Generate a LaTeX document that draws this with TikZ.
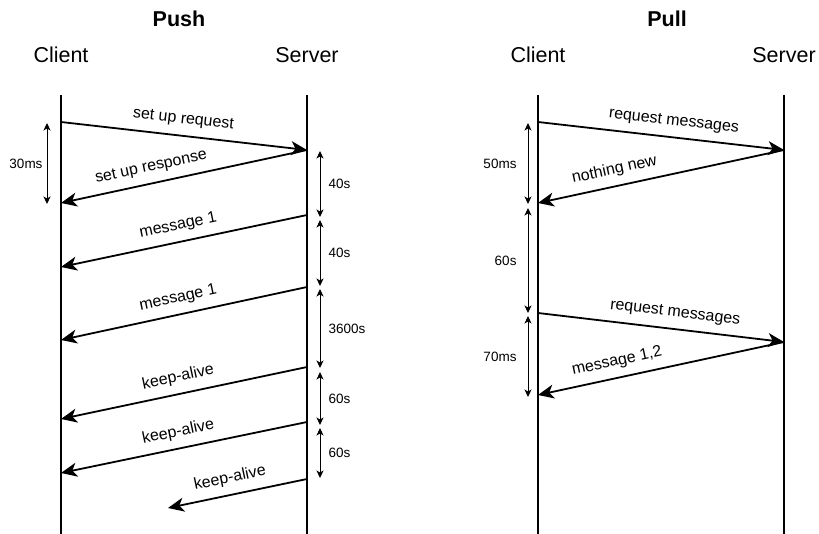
\documentclass[tikz,border=0pt]{standalone}
\usepackage{fontspec}
\setmainfont{Liberation Sans}
\usetikzlibrary{arrows.meta}

\tikzset{
  lifeline/.style={line width=2.2pt},
  msg/.style={line width=1.8pt, -{Stealth[length=16pt,width=14pt,inset=4.5pt]}},
  msglabel/.style={font=\fontsize{16}{19}\selectfont, inner sep=0pt, sloped, above=8pt},
  dur/.style={line width=1pt, {Stealth[length=7.5pt,width=7pt,inset=2pt]}-{Stealth[length=7.5pt,width=7pt,inset=2pt]}},
  durlabel/.style={font=\fontsize{13.5}{16}\selectfont, inner sep=0pt, midway},
  title/.style={font=\fontsize{21.5}{24}\selectfont\bfseries, anchor=base},
  actor/.style={font=\fontsize{21.5}{24}\selectfont, anchor=base},
}

\begin{document}
\begin{tikzpicture}[x=1pt, y=-1pt]
  \useasboundingbox[fill=white] (0,0) rectangle (819,534);

  % ---------------- Push ----------------
  \node[title] (pushT) at (179,27) {Push};
  \node[actor] (pushC) at (61,63) {Client};
  \node[actor] (pushS) at (307,63) {Server};

  \coordinate (pcTop) at (61,95);   \coordinate (pcBot) at (61,534);
  \coordinate (psTop) at (307,95);  \coordinate (psBot) at (307,534);
  \draw[lifeline] (pcTop) -- (pcBot);
  \draw[lifeline] (psTop) -- (psBot);

  % events on the lifelines
  \coordinate (pc1) at (61,122);  \coordinate (ps1) at (307,150);
  \coordinate (pc2) at (61,203);
  \coordinate (ps3) at (307,215); \coordinate (pc3) at (61,267);
  \coordinate (ps4) at (307,287); \coordinate (pc4) at (61,340);
  \coordinate (ps5) at (307,367); \coordinate (pc5) at (61,419);
  \coordinate (ps6) at (307,422); \coordinate (pc6) at (61,473);
  \coordinate (ps7) at (307,479); \coordinate (pe7) at (168,508);

  \draw[msg] (pc1) -- node[msglabel, pos=0.49] {set up request} (ps1);
  \draw[msg] (ps1) -- node[msglabel, pos=0.62] {set up response} (pc2);
  \draw[msg] (ps3) -- node[msglabel, pos=0.51] {message 1} (pc3);
  \draw[msg] (ps4) -- node[msglabel, pos=0.51] {message 1} (pc4);
  \draw[msg] (ps5) -- node[msglabel, pos=0.51] {keep-alive} (pc5);
  \draw[msg] (ps6) -- node[msglabel, pos=0.51] {keep-alive} (pc6);
  \draw[msg] (ps7) -- node[msglabel, pos=0.53] {keep-alive} (pe7);

  % intervals
  \coordinate (pda) at (47,123);  \coordinate (pdb) at (47,204);
  \draw[dur] (pda) -- node[durlabel, anchor=east, xshift=-4pt] {30ms} (pdb);

  \coordinate (sd1a) at (320,151); \coordinate (sd1b) at (320,217);
  \coordinate (sd2a) at (320,220); \coordinate (sd2b) at (320,286);
  \coordinate (sd3a) at (320,289); \coordinate (sd3b) at (320,368);
  \coordinate (sd4a) at (320,372); \coordinate (sd4b) at (320,425);
  \coordinate (sd5a) at (320,428); \coordinate (sd5b) at (320,478);
  \draw[dur] (sd1a) -- node[durlabel, anchor=west, xshift=8pt] {40s} (sd1b);
  \draw[dur] (sd2a) -- node[durlabel, anchor=west, xshift=8pt] {40s} (sd2b);
  \draw[dur] (sd3a) -- node[durlabel, anchor=west, xshift=8pt] {3600s} (sd3b);
  \draw[dur] (sd4a) -- node[durlabel, anchor=west, xshift=8pt] {60s} (sd4b);
  \draw[dur] (sd5a) -- node[durlabel, anchor=west, xshift=8pt] {60s} (sd5b);

  % ---------------- Pull ----------------
  \node[title] (pullT) at (667,27) {Pull};
  \node[actor] (pullC) at (538,63) {Client};
  \node[actor] (pullS) at (784,63) {Server};

  \coordinate (qcTop) at (538,95);  \coordinate (qcBot) at (538,534);
  \coordinate (qsTop) at (784,95);  \coordinate (qsBot) at (784,534);
  \draw[lifeline] (qcTop) -- (qcBot);
  \draw[lifeline] (qsTop) -- (qsBot);

  \coordinate (qc1) at (538,122); \coordinate (qs1) at (784,150);
  \coordinate (qc2) at (538,203);
  \coordinate (qc3) at (538,313); \coordinate (qs3) at (784,342);
  \coordinate (qc4) at (538,395);

  \draw[msg] (qc1) -- node[msglabel, pos=0.545] {request messages} (qs1);
  \draw[msg] (qs1) -- node[msglabel, pos=0.675] {nothing new} (qc2);
  \draw[msg] (qc3) -- node[msglabel, pos=0.55] {request messages} (qs3);
  \draw[msg] (qs3) -- node[msglabel, pos=0.665] {message 1,2} (qc4);

  \coordinate (qd1a) at (528,123); \coordinate (qd1b) at (528,204);
  \coordinate (qd2a) at (528,208); \coordinate (qd2b) at (528,313);
  \coordinate (qd3a) at (528,316); \coordinate (qd3b) at (528,397);
  \draw[dur] (qd1a) -- node[durlabel, anchor=east, xshift=-11pt] {50ms} (qd1b);
  \draw[dur] (qd2a) -- node[durlabel, anchor=east, xshift=-11pt] {60s} (qd2b);
  \draw[dur] (qd3a) -- node[durlabel, anchor=east, xshift=-11pt] {70ms} (qd3b);
\end{tikzpicture}
\end{document}
